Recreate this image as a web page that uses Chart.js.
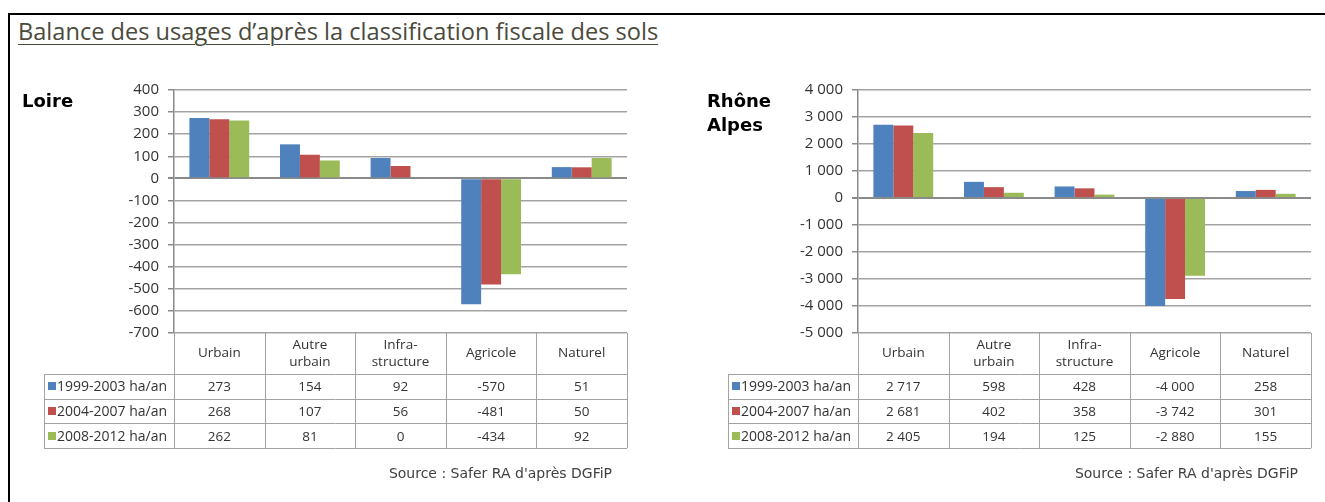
<!DOCTYPE html>
<html lang="fr">
<head>
<meta charset="utf-8">
<title>Balance des usages</title>
<script src="https://cdn.jsdelivr.net/npm/chart.js@4.4.1/dist/chart.umd.min.js"></script>
<style>
  html, body { margin: 0; padding: 0; background: #fff; overflow: hidden; }
  body { width: 1325px; height: 502px; position: relative; font-family: "Open Sans", sans-serif; }
  #frame { position: absolute; left: 8px; top: 13px; width: 1330px; height: 500px; border-left: 2px solid #000; border-top: 2px solid #000; }
  h1 { position: absolute; left: 18px; top: 19px; margin: 0; font-weight: normal; font-size: 23.6px; line-height: 24px;
       color: #4a4a3c; text-decoration: underline; text-underline-offset: 4px; text-decoration-thickness: 1px; white-space: nowrap; }
  .region { position: absolute; font-family: "DejaVu Sans", Verdana, sans-serif; font-weight: bold; font-size: 18px; line-height: 24px; color: #000; }
  .source { position: absolute; top: 464px; font-family: "DejaVu Sans", Verdana, sans-serif; font-size: 14px; line-height: 18px; color: #404040; white-space: nowrap; }
  canvas { position: absolute; top: 0; }
</style>
</head>
<body>
<div id="frame"></div>
<h1>Balance des usages d’après la classification fiscale des sols</h1>

<canvas id="loire" width="660" height="502" style="left:0"></canvas>
<canvas id="rhone" width="665" height="502" style="left:660px"></canvas>

<div class="region" style="left:22px; top:89px">Loire</div>
<div class="region" style="left:707px; top:89px">Rhône<br>Alpes</div>
<div class="source" style="right:713px">Source : Safer RA d'après DGFiP</div>
<div class="source" style="right:27px">Source : Safer RA d'après DGFiP</div>

<script>
// ── Données ─────────────────────────────────────────────────────────────

const categories = [['Urbain'], ['Autre', 'urbain'], ['Infra-', 'structure'], ['Agricole'], ['Naturel']]
const periods = ['1999-2003 ha/an', '2004-2007 ha/an', '2008-2012 ha/an']
const periodColors = ['#4F81BD', '#C0504D', '#9BBB59']

// Loire (ha/an)
const loire1999 = [273, 154, 92, -570, 51]
const loire2004 = [268, 107, 56, -481, 50]
const loire2008 = [262, 81, 0, -434, 92]
const loireTicks = [-700, -600, -500, -400, -300, -200, -100, 0, 100, 200, 300, 400]

// Rhône-Alpes (ha/an)
const rhone1999 = [2717, 598, 428, -4000, 258]
const rhone2004 = [2681, 402, 358, -3742, 301]
const rhone2008 = [2405, 194, 125, -2880, 155]
const rhoneTicks = [-5000, -4000, -3000, -2000, -1000, 0, 1000, 2000, 3000, 4000]

// ── Helpers ─────────────────────────────────────────────────────────────

// 2717 -> "2 717", -4000 -> "-4 000"
function fmtNum (v) {
  const s = String(Math.abs(v)).replace(/\B(?=(\d{3})+(?!\d))/g, ' ')
  return (v < 0 ? '-' : '') + s
}

const GRID = '#a3a3a3'
const AXIS = '#8a8a8a'
const TEXT = '#333333'

Chart.defaults.font.family = '"Open Sans", sans-serif'
Chart.defaults.color = TEXT

// ── Tableau de données sous le graphique ────────────────────────────────

const dataTable = {
  id: 'dataTable',
  afterDraw (chart, args, opts) {
    const { ctx, chartArea: area } = chart
    const x = chart.scales.x
    const labels = chart.data.labels
    const sets = chart.data.datasets
    const colW = x.getPixelForValue(1) - x.getPixelForValue(0)
    const top = area.bottom
    const headBottom = top + opts.headerHeight
    const rowH = opts.rowHeight
    const bottom = headBottom + sets.length * rowH
    const legendLeft = area.left - opts.legendWidth
    const edges = labels.map((l, i) => x.getPixelForValue(i) - colW / 2).concat(area.right)
    const crisp = v => Math.round(v) + 0.5

    ctx.save()
    ctx.strokeStyle = opts.lineColor
    ctx.lineWidth = 1
    ctx.beginPath()
    edges.forEach(ex => { ctx.moveTo(crisp(ex), top); ctx.lineTo(crisp(ex), bottom) })
    ctx.moveTo(crisp(legendLeft), headBottom)
    ctx.lineTo(crisp(legendLeft), bottom)
    for (let r = 0; r <= sets.length; r++) {
      const py = crisp(headBottom + r * rowH)
      ctx.moveTo(legendLeft, py)
      ctx.lineTo(area.right, py)
    }
    ctx.stroke()

    // en-têtes de colonnes
    ctx.fillStyle = TEXT
    ctx.textAlign = 'center'
    ctx.textBaseline = 'middle'
    ctx.font = opts.headerFont
    labels.forEach((lab, i) => {
      const lines = [].concat(lab)
      const cx = x.getPixelForValue(i)
      const cy = top + opts.headerHeight / 2
      lines.forEach((t, k) => ctx.fillText(t, cx, cy + (k - (lines.length - 1) / 2) * opts.lineGap))
    })

    // lignes de valeurs
    sets.forEach((ds, r) => {
      const cy = headBottom + (r + 0.5) * rowH
      ctx.fillStyle = ds.backgroundColor
      ctx.fillRect(legendLeft + 4, Math.round(cy - 4), 8, 8)
      ctx.fillStyle = TEXT
      ctx.textAlign = 'left'
      ctx.font = opts.legendFont
      ctx.fillText(ds.label, legendLeft + 13, cy + 1)
      ctx.textAlign = 'center'
      ctx.font = opts.cellFont
      ds.data.forEach((v, i) => ctx.fillText(fmtNum(v), x.getPixelForValue(i), cy + 1))
    })
    ctx.restore()
  }
}

// ── Construction d'un graphique ─────────────────────────────────────────

function buildChart (canvasId, series, ticks, axisWidth, padRight) {
  const tickMin = ticks[0]
  const tickMax = ticks[ticks.length - 1]
  return new Chart(document.getElementById(canvasId), {
    type: 'bar',
    data: {
      labels: categories,
      datasets: series.map((data, i) => ({
        label: periods[i],
        data,
        backgroundColor: periodColors[i],
        borderWidth: 0,
        categoryPercentage: 0.66,
        barPercentage: 1.0
      }))
    },
    options: {
      responsive: false,
      animation: false,
      events: [],
      layout: { padding: { top: 90, bottom: 169, left: 0, right: padRight } },
      plugins: {
        legend: { display: false },
        tooltip: { enabled: false },
        dataTable: {
          headerHeight: 41,
          rowHeight: 24.7,
          legendWidth: 130,
          lineGap: 17,
          lineColor: GRID,
          headerFont: '13.5px "Open Sans", sans-serif',
          legendFont: '14px "Open Sans", sans-serif',
          cellFont: '13.5px "Open Sans", sans-serif'
        }
      },
      scales: {
        x: { display: false },
        y: {
          min: tickMin,
          max: tickMax,
          afterBuildTicks: s => { s.ticks = ticks.map(value => ({ value })) },
          afterFit: s => { s.width = axisWidth },
          border: { color: AXIS, width: 1.5 },
          grid: {
            color: c => c.tick && c.tick.value === 0 ? AXIS : GRID,
            lineWidth: c => c.tick && c.tick.value === 0 ? 2 : 1.5,
            tickColor: AXIS,
            tickLength: 6
          },
          ticks: {
            color: TEXT,
            padding: 9,
            font: { size: 15 },
            autoSkip: false,
            callback: v => fmtNum(v)
          }
        }
      }
    },
    plugins: [dataTable]
  })
}

buildChart('loire', [loire1999, loire2004, loire2008], loireTicks, 174, 33)
buildChart('rhone', [rhone1999, rhone2004, rhone2008], rhoneTicks, 198, 14)
</script>
</body>
</html>
